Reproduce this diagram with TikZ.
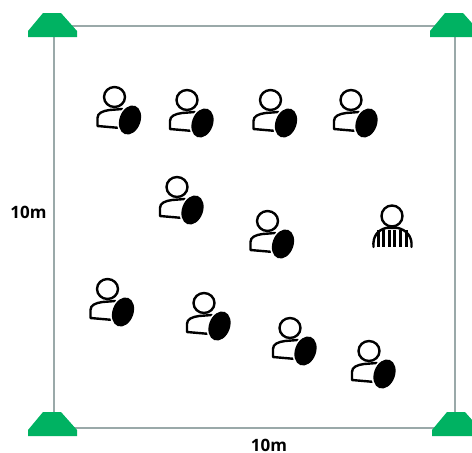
\documentclass[tikz,border=0pt]{standalone}
\usepackage{fontspec}
\setmainfont{Open Sans}

\definecolor{conegreen}{HTML}{00B262}
\definecolor{linegray}{HTML}{9AA9A9}

\tikzset{
  court line/.style={draw=linegray,line width=1.3pt},
  size label/.style={font=\fontsize{17}{20}\selectfont\bfseries,text=black,inner sep=0pt},
  outline/.style={draw=black,line width=2.4pt,line cap=round,line join=round},
  cone/.pic={
    \fill [conegreen] (-9.5,-12) -- (8.5,-12) -- (24.5,6) -- (24.5,12) -- (-24.5,12) -- (-24.5,6) -- cycle;
  },
  player/.pic={
    \draw [outline] (0,0) ellipse [x radius=10.5,y radius=10];
    \draw [outline] (8,12) -- (-5,13) .. controls (-12,14) and (-17,16) .. (-17,21) -- (-17,29) -- (6,31);
    \fill [white,rotate around={-20:(15.5,23)}] (15.5,23) ellipse [x radius=12,y radius=17];
    \fill [black,rotate around={-20:(15.5,23)}] (15.5,23) ellipse [x radius=10.5,y radius=15];
  },
  referee/.pic={
    \draw [outline] (0,0) circle (10.5);
    \draw [outline] (-18.5,31) .. controls (-19.5,20) and (-14,14) .. (-6,12) -- (6,12) .. controls (14,14) and (20.5,20) .. (19.5,31);
    \foreach \xs in {-14,-8.5,-3,2.5,8,14}
      \draw [black,line width=3pt] (\xs,14) -- (\xs,31);
  }
}

\begin{document}
\begin{tikzpicture}[x=1pt,y=-1pt]
  \useasboundingbox (0,0) rectangle (472,453);

  %% court
  \coordinate (tl) at (54,26);
  \coordinate (tr) at (455,26);
  \coordinate (bl) at (54,428);
  \coordinate (br) at (455,428);
  \draw [court line] (tl) -- (tr) -- (br) -- (bl) -- cycle;

  %% cones
  \pic (conetl) at (52.5,25) {cone};
  \pic (conetr) at (454.5,25) {cone};
  \pic (conebl) at (52.5,424) {cone};
  \pic (conebr) at (456.5,424) {cone};

  %% labels
  \node [size label] (sideleft) at (28.5,212) {10m};
  \node [size label] (sidebottom) at (269,445.5) {10m};

  %% players
  \pic (p1) at (114.5,97) {player};
  \pic (p2) at (187,100) {player};
  \pic (p3) at (270.5,100) {player};
  \pic (p4) at (351,100) {player};
  \pic (p5) at (177,187) {player};
  \pic (p6) at (267.5,221) {player};
  \pic (p7) at (107.5,289) {player};
  \pic (p8) at (204,303) {player};
  \pic (p9) at (290,328) {player};
  \pic (p10) at (369,351) {player};

  %% referee
  \pic (ref) at (392,216) {referee};
\end{tikzpicture}
\end{document}
